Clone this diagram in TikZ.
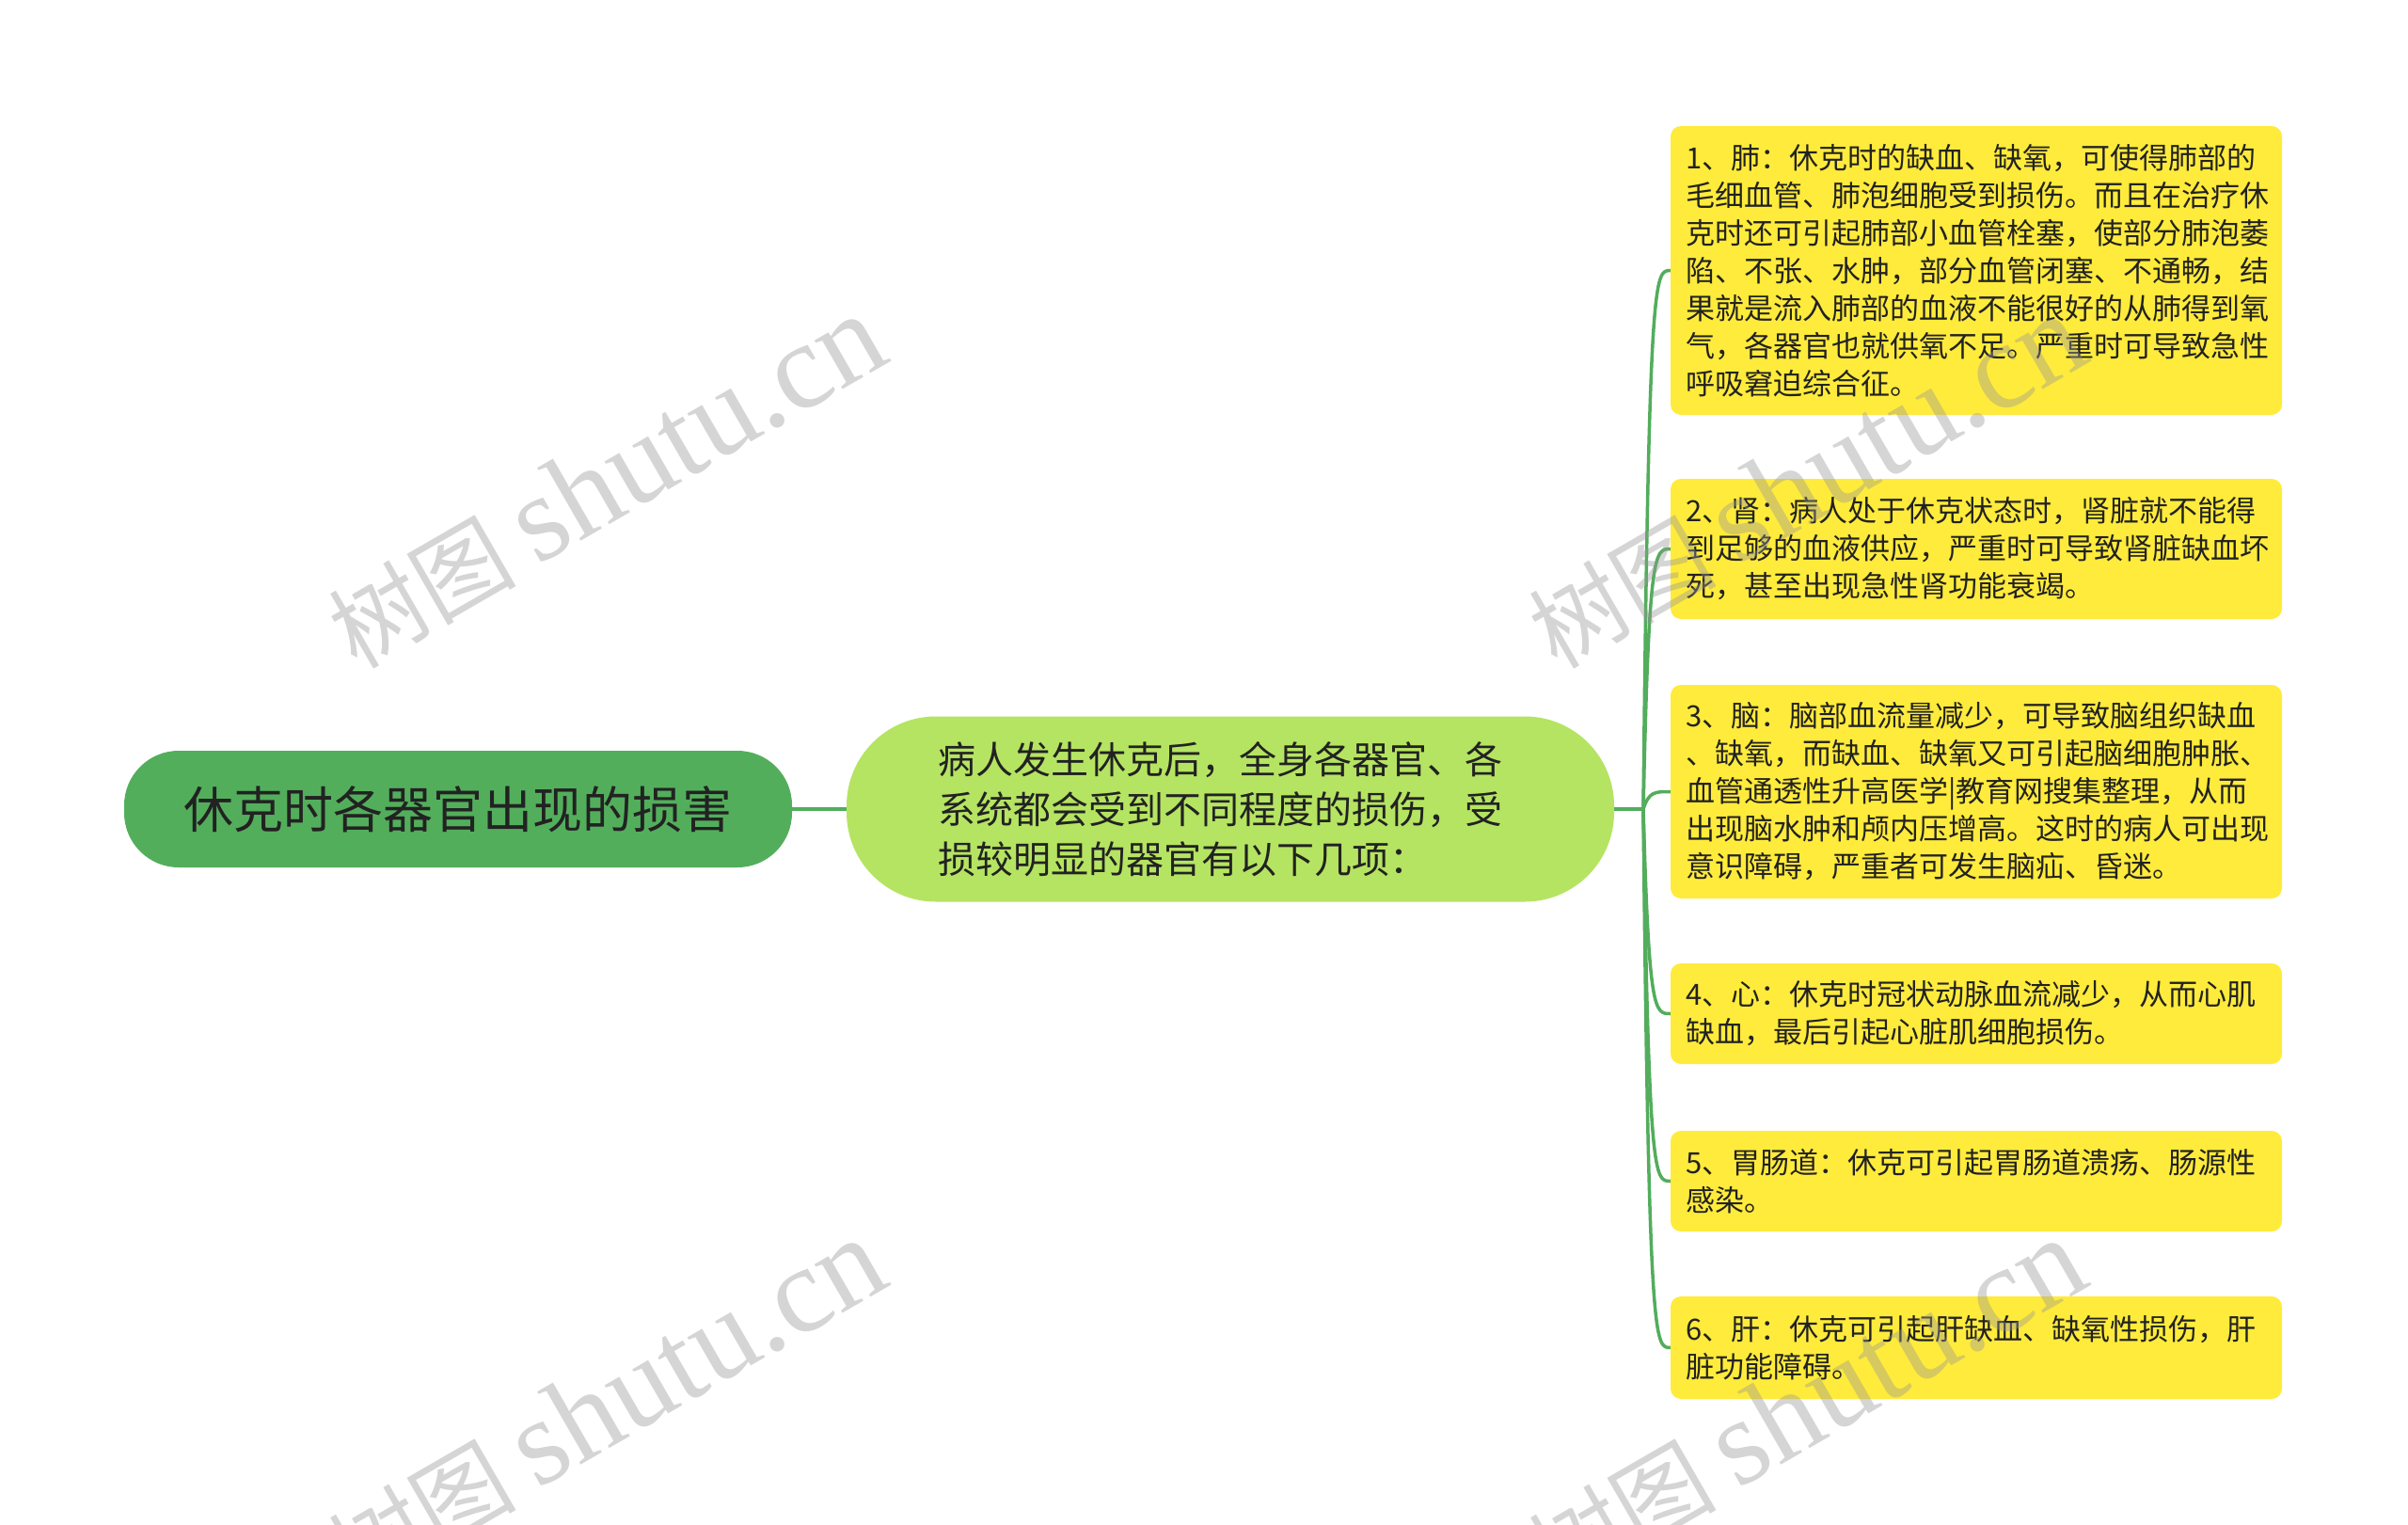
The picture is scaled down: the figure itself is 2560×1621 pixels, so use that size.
\documentclass[tikz,border=0pt]{standalone}
\usepackage{fontspec}
\setmainfont{Noto Sans CJK SC}
\newfontfamily\wmlatin{Liberation Serif}
\newfontfamily\wmcjk{Noto Sans CJK SC}
\definecolor{rootc}{HTML}{53AE5C}
\definecolor{midc}{HTML}{B5E462}
\definecolor{leafc}{HTML}{FFEB3B}
\definecolor{connc}{HTML}{52AD5C}
\definecolor{textc}{HTML}{222222}
\definecolor{wmc}{HTML}{969696}
\newcommand{\wmtext}{{\wmcjk\fontsize{100}{120}\selectfont 树图}\hspace{22pt}{\wmlatin\fontsize{130}{140}\selectfont shutu.cn}}
\begin{document}
\begin{tikzpicture}[x=1pt,y=-1pt,
  rootbox/.style={fill=rootc, rounded corners=58pt, minimum width=710pt, minimum height=124pt, inner sep=0pt, text=textc, font=\fontsize{53}{60}\selectfont},
  midbox/.style={fill=midc, rounded corners=95pt, minimum width=816pt, minimum height=197pt, inner sep=0pt},
  midtext/.style={inner sep=0pt, align=left, text=textc, font=\fontsize{40}{53}\selectfont},
  leafbox/.style={fill=leafc, rounded corners=11pt, minimum width=650pt, text width=618pt, inner xsep=16pt, inner ysep=0pt, align=left, text=textc, font=\fontsize{31}{40}\selectfont},
  conn/.style={draw=connc, line width=3.5pt},
  wmark/.style={text=wmc, text opacity=0.4, rotate=30, inner sep=0pt}
]
\useasboundingbox (0,0) rectangle (2560,1621);
\fill[white] (0,0) rectangle (2560,1621);

% nodes
\node[rootbox] (root) at (487,860) {休克时各器官出现的损害};
\node[midbox] (mid) at (1308,860) {};
\node[midtext] (midt) at (1297,860) {病人发生休克后，全身各器官、各\\系统都会受到不同程度的损伤，受\\损较明显的器官有以下几项：};

\node[leafbox, minimum height=307pt] (b1) at (2101,287.5) {1、肺：休克时的缺血、缺氧，可使得肺部的\\毛细血管、肺泡细胞受到损伤。而且在治疗休\\克时还可引起肺部小血管栓塞，使部分肺泡萎\\陷、不张、水肿，部分血管闭塞、不通畅，结\\果就是流入肺部的血液不能很好的从肺得到氧\\气，各器官也就供氧不足。严重时可导致急性\\呼吸窘迫综合征。};
\node[leafbox, minimum height=149pt] (b2) at (2101,583.5) {2、肾：病人处于休克状态时，肾脏就不能得\\到足够的血液供应，严重时可导致肾脏缺血坏\\死，甚至出现急性肾功能衰竭。};
\node[leafbox, minimum height=227pt] (b3) at (2101,841.5) {3、脑：脑部血流量减少，可导致脑组织缺血\\、缺氧，而缺血、缺氧又可引起脑细胞肿胀、\\血管通透性升高医学|教育网搜集整理，从而\\出现脑水肿和颅内压增高。这时的病人可出现\\意识障碍，严重者可发生脑疝、昏迷。};
\node[leafbox, minimum height=107pt] (b4) at (2101,1077.5) {4、心：休克时冠状动脉血流减少，从而心肌\\缺血，最后引起心脏肌细胞损伤。};
\node[leafbox, minimum height=107pt] (b5) at (2101,1255.5) {5、胃肠道：休克可引起胃肠道溃疡、肠源性\\感染。};
\node[leafbox, minimum height=109pt] (b6) at (2101,1432.5) {6、肝：休克可引起肝缺血、缺氧性损伤，肝\\脏功能障碍。};

% connectors
\coordinate (j) at (1747,860);
\coordinate (ja) at (1753,860);
\coordinate (jb) at (1759,860);
\draw[conn] (root.east) -- (mid.west);
\draw[conn] (mid.east) -- (j);
\foreach \b in {b1,b2,b3,b4,b5,b6}{
  \draw[conn] (j) .. controls (ja |- \b.west) and (jb |- \b.west) .. (\b.west);
}

% watermarks
\node[wmark] (wm1) at (644,512) {\wmtext};
\node[wmark] (wm2) at (1920,512) {\wmtext};
\node[wmark] (wm3) at (644,1494) {\wmtext};
\node[wmark] (wm4) at (1920,1494) {\wmtext};
\end{tikzpicture}
\end{document}
